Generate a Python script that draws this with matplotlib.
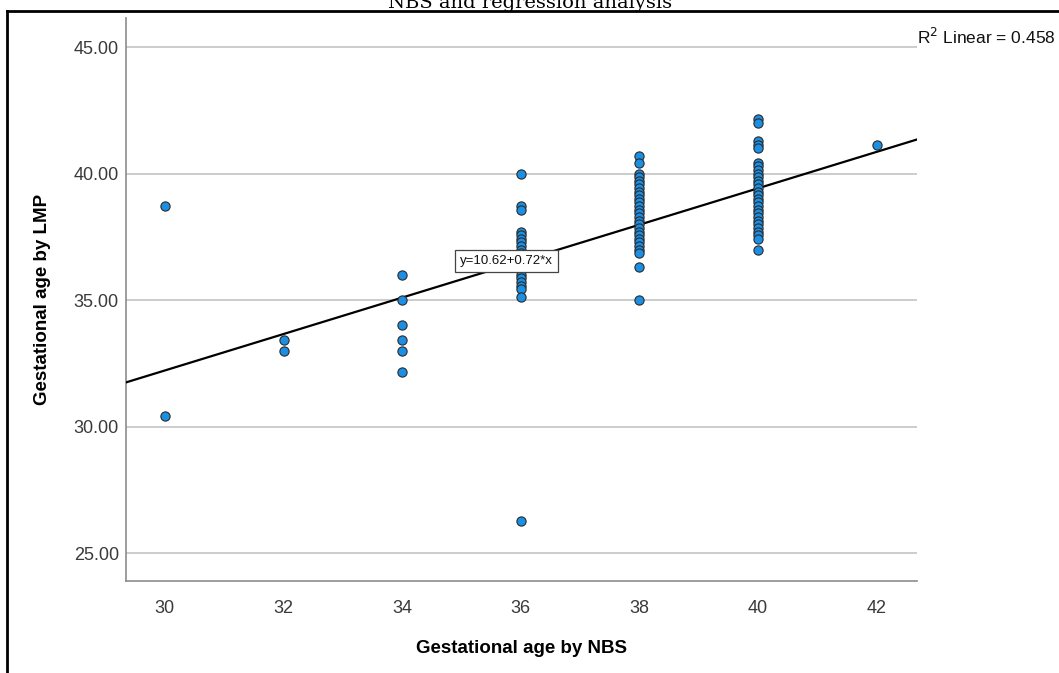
import matplotlib.pyplot as plt
from matplotlib.lines import Line2D

# Gestational age by NBS (x) and by LMP (y), weeks + days/7
nbs_30 = [38.71, 30.43]
nbs_32 = [33.43, 33.00]
nbs_34 = [36.00, 35.00, 34.00, 33.43, 33.00, 32.14]
nbs_36 = [40.00, 38.71, 38.57, 37.71, 37.57, 37.43, 37.29, 37.14, 37.00, 36.86,
          36.71, 36.43, 36.14, 36.00, 35.86, 35.71, 35.57, 35.43, 35.14, 26.29]
nbs_38 = [40.71, 40.43, 40.00, 39.86, 39.71, 39.57, 39.43, 39.29, 39.14, 39.00,
          38.86, 38.71, 38.57, 38.43, 38.29, 38.14, 38.00, 37.86, 37.71, 37.57,
          37.43, 37.29, 37.14, 37.00, 36.86, 36.29, 35.00]
nbs_40 = [42.14, 42.00, 41.29, 41.14, 41.00, 40.43, 40.29, 40.14, 40.00, 39.86,
          39.71, 39.57, 39.43, 39.29, 39.14, 39.00, 38.86, 38.71, 38.57, 38.43,
          38.29, 38.14, 38.00, 37.86, 37.71, 37.57, 37.43, 37.00]
nbs_42 = [41.14]

groups = {30: nbs_30, 32: nbs_32, 34: nbs_34, 36: nbs_36, 38: nbs_38, 40: nbs_40, 42: nbs_42}

intercept = 10.62
slope = 0.72
r2 = 0.458

x_ticks = [30, 32, 34, 36, 38, 40, 42]
y_ticks = [25, 30, 35, 40, 45]

plt.rcParams['font.family'] = ['Liberation Sans', 'DejaVu Sans']

fig = plt.figure(figsize=(10.59, 6.73), dpi=100)
ax = fig.add_axes([0.1187, 0.1367, 0.7473, 0.8366])

x_pts, y_pts = [], []
for nbs, vals in groups.items():
    x_pts += [nbs] * len(vals)
    y_pts += vals

ax.scatter(x_pts, y_pts, s=44, color='#1a8fe3', edgecolor='#2b2b2b', linewidth=0.8, zorder=4)

# fit line across the full x range
xlo, xhi = 29.34, 42.68
ax.plot([xlo, xhi], [intercept + slope * xlo, intercept + slope * xhi],
        color='black', linewidth=1.6, zorder=3)

ax.text(35.76, 36.54, f"y={intercept:.2f}+{slope:.2f}*x", fontsize=9.5, ha='center', va='center',
        color='#111111', zorder=5,
        bbox=dict(boxstyle='square,pad=0.4', facecolor='white', edgecolor='#444444', linewidth=0.9))

ax.set_xlim(xlo, xhi)
ax.set_ylim(23.9, 46.15)
ax.set_xticks(x_ticks)
ax.set_yticks(y_ticks)
ax.set_yticklabels([f"{v:.2f}" for v in y_ticks])
ax.tick_params(length=0, labelsize=13, labelcolor='#3a3a3a', pad=5)
ax.tick_params(axis='x', pad=14)

ax.grid(axis='y', color='#c4c4c4', linewidth=1.2)
ax.set_axisbelow(True)
for side in ['top', 'right']:
    ax.spines[side].set_visible(False)
for side in ['left', 'bottom']:
    ax.spines[side].set_color('#8c8c8c')
    ax.spines[side].set_linewidth(1.2)

ax.set_xlabel('Gestational age by NBS', fontsize=13.5, fontweight='bold', labelpad=16)
ax.set_ylabel('Gestational age by LMP', fontsize=13.5, fontweight='bold', labelpad=16)

fig.text(917 / 1059, 1 - 37 / 673, f"R$^2$ Linear = {r2:.3f}", fontsize=12.5, ha='left', va='center',
         color='#111111')

# title, partly clipped at the top edge as in the source
fig.text(530 / 1059, 1 - 8 / 673, 'NBS and regression analysis', fontsize=14, ha='center',
         va='baseline', family='DejaVu Serif', color='black')

# outer frame
fig.add_artist(Line2D([7 / 1059, 1.0], [1 - 10.5 / 673, 1 - 10.5 / 673],
                      transform=fig.transFigure, color='black', linewidth=2))
fig.add_artist(Line2D([7 / 1059, 7 / 1059], [1 - 10.5 / 673, 0.0],
                      transform=fig.transFigure, color='black', linewidth=2))

fig.savefig('out.png', dpi=100)
